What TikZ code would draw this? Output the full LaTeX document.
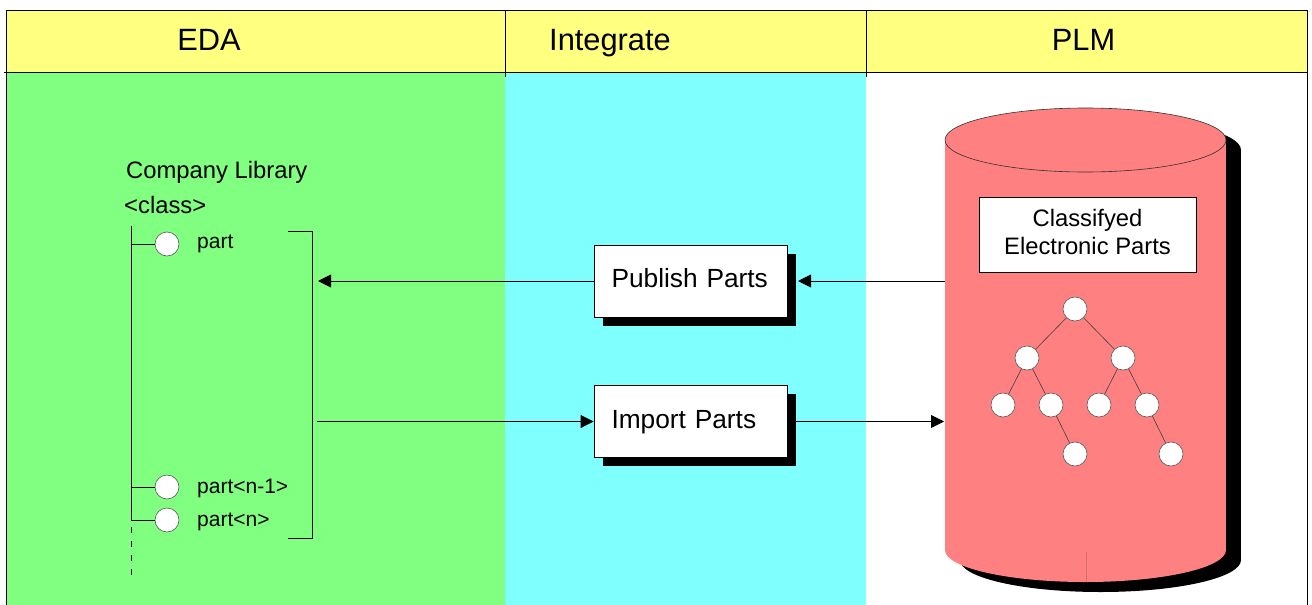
\documentclass[tikz,border=0pt]{standalone}
\usepackage{fontspec}
\setmainfont{Liberation Sans}
\usetikzlibrary{arrows.meta,shadows}
\definecolor{hdr}{HTML}{FFFF80}
\definecolor{edag}{HTML}{80FF80}
\definecolor{intc}{HTML}{80FFFF}
\definecolor{cylr}{HTML}{FF8080}
\begin{document}
\begin{tikzpicture}[x=1pt,y=-1pt,
  frame/.style={line width=1pt},
  conn/.style={line width=0.9pt},
  tip/.style={conn,-{Triangle[length=13pt,width=13pt]}},
  hdrtext/.style={font=\fontsize{30.8}{36}\selectfont, inner sep=0pt},
  lbl/.style={font=\fontsize{23.8}{28}\selectfont, inner sep=0pt},
  partlbl/.style={font=\fontsize{21}{25}\selectfont, inner sep=0pt},
  procbox/.style={draw, line width=0.9pt, fill=white, minimum height=72pt,
    text width=162pt, inner xsep=15.5pt, inner ysep=0pt, align=left,
    text height=19pt, text depth=5.5pt, font=\fontsize{26.3}{30}\selectfont,
    execute at begin node={\hspace*{2pt}},
    drop shadow={shadow xshift=8.5pt, shadow yshift=-8.5pt, fill=black, opacity=1}},
  leaf/.style={circle, draw=black!65, line width=0.6pt, fill=white, minimum size=24pt, inner sep=0pt},
  treeedge/.style={line width=0.6pt, draw=black!75}]
\useasboundingbox (0,0) rectangle (1312,605);
% regions
\fill[white] (0,0) rectangle (1312,605);
\fill[hdr] (6,10) rectangle (1307,72);
\fill[edag] (6,72) rectangle (505,605);
\fill[intc] (505,72) rectangle (866,605);
% frame
\draw[frame] (6,605) -- (6,10) -- (1307,10) -- (1307,605);
\draw[frame] (4,72) -- (1307,72);
\draw[frame] (505,10) -- (505,77);
\draw[frame] (866,10) -- (866,77);
% header texts
\node[hdrtext, anchor=base] (heda) at (209,50) {EDA};
\node[hdrtext, anchor=base] (hint) at (610,50) {Integrate};
\node[hdrtext, anchor=base] (hplm) at (1083.5,50) {PLM};
% library tree
\node[lbl, anchor=base west] (lib) at (126,178) {Company Library};
\node[lbl, anchor=base west] (cls) at (124,213) {<class>};
\coordinate (ttop) at (131,226);
\coordinate (t1) at (131,244);
\coordinate (t2) at (131,487);
\coordinate (t3) at (131,520);
\coordinate (tds) at (131,527);
\coordinate (tend) at (131,576);
\draw[conn] (ttop) -- (t3);
\draw[conn, dash pattern=on 6pt off 8pt] (tds) -- (tend);
\node[leaf] (p1) at (167,244) {};
\node[leaf] (p2) at (167,487) {};
\node[leaf] (p3) at (167,520) {};
\draw[conn] (t1) -- (p1);
\draw[conn] (t2) -- (p2);
\draw[conn] (t3) -- (p3);
\node[partlbl, anchor=base west] (l1) at (197,248) {part};
\node[partlbl, anchor=base west] (l2) at (197,493) {part<n-1>};
\node[partlbl, anchor=base west] (l3) at (197,526) {part<n>};
% bracket
\coordinate (b1) at (288,231);
\coordinate (b2) at (312,231);
\coordinate (b3) at (312,538);
\coordinate (b4) at (288,538);
\draw[conn] (b1) -- (b2) -- (b3) -- (b4);
\coordinate (brkin) at (318,281);
\coordinate (brkout) at (317,421.5);
% process boxes
\node[procbox] (pub) at (690.5,281) {Publish Parts};
\node[procbox] (imp) at (690.5,421.5) {Import Parts};
% cylinder shadow
\fill[black] (960,150) rectangle (1241,560);
\fill[black] (1100.5,560) ellipse [x radius=140.5, y radius=32];
\fill[black] (1100.5,150) ellipse [x radius=140.5, y radius=32];
% cylinder
\fill[cylr] (945,140) rectangle (1226,550);
\fill[cylr] (1085.5,550) ellipse [x radius=140.5, y radius=32];
\filldraw[fill=cylr, draw=black!80, line width=0.6pt] (1085.5,140) ellipse [x radius=140.5, y radius=32];
\draw[cylr!85!black, line width=0.4pt] (1086,552) -- (1086,582);
\coordinate (cyl1) at (945,281);
\coordinate (cyl2) at (944,421.5);
\coordinate (pubtip) at (798,281);
% classified box
\node[draw, line width=0.9pt, fill=white, minimum width=217pt, minimum height=75pt, inner sep=0pt] (cbox) at (1087.5,234.5) {};
\node[lbl, align=center, anchor=north] (ctext) at (1087.5,209) {Classifyed\\Electronic Parts};
% parts tree
\node[leaf] (n1) at (1075,309) {};
\node[leaf] (n2) at (1027,358) {};
\node[leaf] (n3) at (1123,358) {};
\node[leaf] (n4) at (1003,405) {};
\node[leaf] (n5) at (1051,405) {};
\node[leaf] (n6) at (1099,405) {};
\node[leaf] (n7) at (1147,405) {};
\node[leaf] (n8) at (1075,454) {};
\node[leaf] (n9) at (1171,454) {};
\draw[treeedge] (n1) -- (n2);
\draw[treeedge] (n1) -- (n3);
\draw[treeedge] (n2) -- (n4);
\draw[treeedge] (n2) -- (n5);
\draw[treeedge] (n5) -- (n8);
\draw[treeedge] (n3) -- (n6);
\draw[treeedge] (n3) -- (n7);
\draw[treeedge] (n7) -- (n9);
% connectors
\draw[tip] (cyl1) -- (pubtip);
\draw[tip] (pub.west) -- (brkin);
\draw[tip] (brkout) -- (imp.west);
\draw[tip] (imp.east) -- (cyl2);
\end{tikzpicture}
\end{document}
